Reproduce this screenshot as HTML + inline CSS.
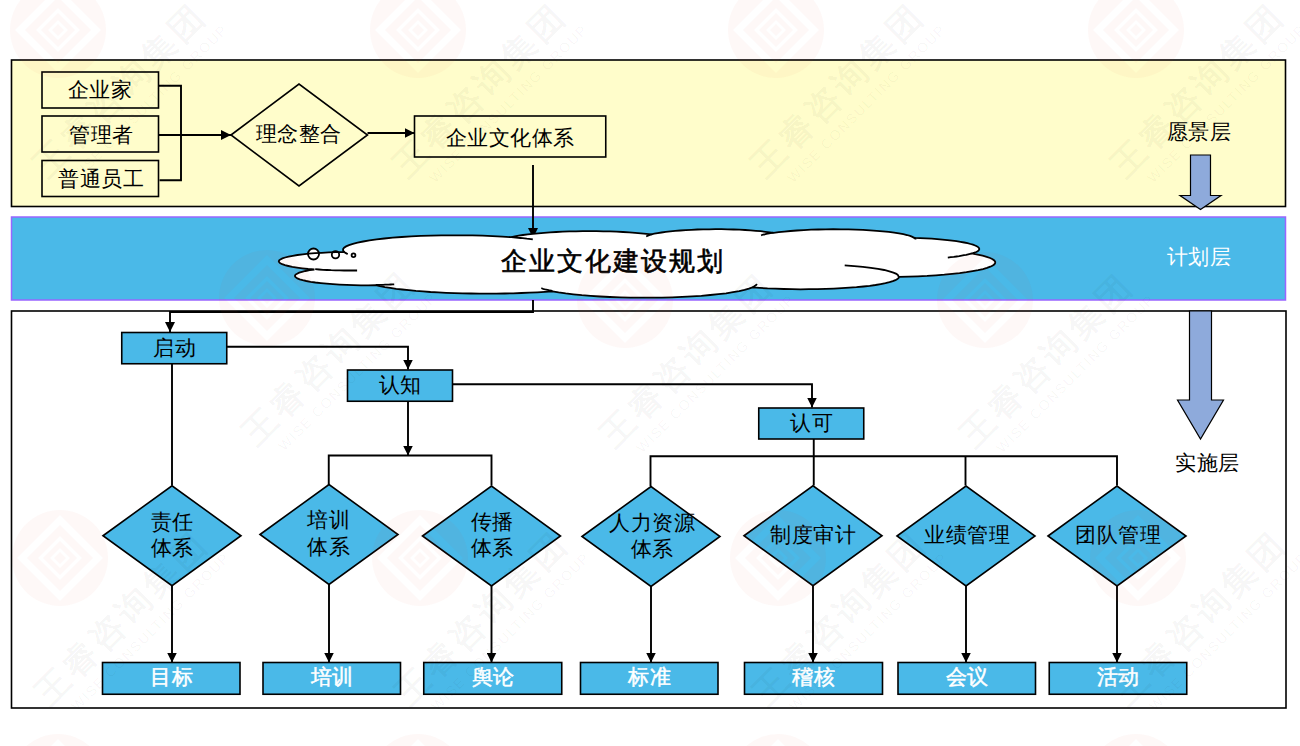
<!DOCTYPE html><html><head><meta charset="utf-8"><style>html,body{margin:0;padding:0;background:#fff;width:1300px;height:746px;overflow:hidden}svg{display:block}text{font-family:"Liberation Sans",sans-serif}</style></head><body><svg width="1300" height="746" viewBox="0 0 1300 746"><defs><marker id="ah" viewBox="0 0 10 10" refX="10" refY="5" markerWidth="10" markerHeight="10" markerUnits="userSpaceOnUse" orient="auto"><path d="M0,0L10,5L0,10Z" fill="#000"/></marker></defs><rect x="11.5" y="60" width="1274" height="146.5" fill="#FFFDCB" stroke="#000" stroke-width="1.6"/><rect x="11.5" y="217" width="1274" height="83" fill="#4AB9E8" stroke="#9966FF" stroke-width="1.5"/><rect x="11.5" y="311" width="1274.5" height="397" fill="none" stroke="#000" stroke-width="1.6"/><rect x="42" y="72" width="116.5" height="36" fill="none" stroke="#000" stroke-width="1.6"/><rect x="42" y="116" width="116.5" height="36" fill="none" stroke="#000" stroke-width="1.6"/><rect x="42" y="160.5" width="116.5" height="36" fill="none" stroke="#000" stroke-width="1.6"/><path d="M158.5,85.75 L181,85.75 L181,180.25 L159.5,180.25" fill="none" stroke="#000" stroke-width="1.9"/><path d="M158.5,135 L231,135" fill="none" stroke="#000" stroke-width="1.9" marker-end="url(#ah)"/><path d="M231,135L299,84L367.5,135L299,186Z" fill="none" stroke="#000" stroke-width="1.6"/><path d="M367.5,133 L414.5,133" fill="none" stroke="#000" stroke-width="1.9" marker-end="url(#ah)"/><rect x="414.5" y="116" width="191.25" height="41" fill="none" stroke="#000" stroke-width="1.6"/><path d="M533,165 L533,238" fill="none" stroke="#000" stroke-width="1.9" marker-end="url(#ah)"/><g fill="#fff" stroke="none"><circle cx="313.5" cy="254" r="5.5"/><circle cx="335.5" cy="254.75" r="3.7"/><circle cx="353.5" cy="255.25" r="1.9"/><path d="M344.0,251.8L343.1,250.4 343.1,249.1 344.1,247.7 346.1,246.4 349.0,245.1 352.9,243.8 357.6,242.6 363.2,241.5 369.5,240.4 376.6,239.4 384.4,238.5 392.8,237.7 401.7,237.0 411.1,236.4 420.9,235.9 430.9,235.6 441.2,235.4 451.6,235.3 462.0,235.3 472.4,235.4 482.6,235.7 492.5,236.1 502.2,236.6 511.4,237.2 514.8,236.5 518.7,235.7 523.0,235.0 527.8,234.4 532.8,233.8 538.3,233.3 544.0,232.8 550.0,232.3 556.2,232.0 562.7,231.7 569.3,231.4 576.0,231.3 582.8,231.2 589.6,231.1 596.5,231.2 603.3,231.3 610.0,231.4 616.6,231.7 623.0,232.0 629.2,232.4 635.2,232.8 640.9,233.3 646.3,233.8 651.4,234.4 654.3,233.7 657.7,233.1 661.5,232.5 665.7,231.9 670.3,231.4 675.2,230.9 680.4,230.5 685.8,230.1 691.4,229.8 697.3,229.5 703.2,229.4 709.3,229.3 715.4,229.2 721.5,229.2 727.5,229.3 733.5,229.5 739.4,229.7 745.1,230.0 750.6,230.4 755.8,230.8 760.7,231.2 765.4,231.8 769.7,232.3 773.6,232.9 778.7,232.2 784.4,231.6 790.5,231.0 797.0,230.5 803.9,230.1 811.0,229.7 818.3,229.5 825.8,229.3 833.3,229.2 840.9,229.3 848.4,229.4 855.8,229.6 863.0,229.9 870.0,230.3 876.7,230.8 882.9,231.3 888.8,231.9 894.2,232.6 899.0,233.4 903.3,234.2 907.0,235.0 910.1,235.9 912.4,236.9 914.1,237.8 920.1,238.1 926.0,238.4 931.7,238.7 937.2,239.1 942.4,239.6 947.4,240.1 952.1,240.6 956.5,241.2 960.5,241.9 964.2,242.5 967.5,243.2 970.5,244.0 973.0,244.7 975.1,245.5 976.8,246.3 978.1,247.1 978.9,247.9 979.2,248.7 979.2,249.5 978.6,250.4 977.7,251.2 976.2,252.0 974.4,252.7 972.1,253.5 977.7,254.6 982.6,255.7 986.7,256.8 990.1,258.0 992.6,259.2 994.3,260.5 995.2,261.7 995.2,263.0 994.4,264.3 992.8,265.5 990.3,266.7 987.0,267.9 983.0,269.1 978.2,270.2 972.6,271.2 966.4,272.2 959.6,273.1 952.2,273.9 944.3,274.7 935.9,275.3 927.1,275.9 918.0,276.3 908.6,276.7 899.0,276.9 898.6,278.0 897.4,279.1 895.4,280.2 892.8,281.2 889.5,282.2 885.5,283.2 880.8,284.1 875.5,285.0 869.7,285.8 863.4,286.5 856.5,287.2 849.3,287.7 841.7,288.2 833.8,288.6 825.7,288.9 817.4,289.1 809.0,289.2 800.5,289.3 792.1,289.2 783.7,289.0 775.5,288.7 767.5,288.4 759.8,287.9 752.4,287.4 748.9,288.7 744.5,289.9 739.2,291.1 733.0,292.2 726.1,293.3 718.5,294.2 710.2,295.0 701.3,295.8 692.0,296.4 682.2,296.9 672.2,297.3 661.8,297.6 651.4,297.7 640.8,297.7 630.4,297.6 620.0,297.4 609.9,297.0 600.1,296.5 590.7,295.9 581.8,295.2 573.4,294.3 565.7,293.4 558.6,292.4 552.4,291.3 545.0,291.8 537.3,292.3 529.4,292.7 521.4,293.0 513.1,293.3 504.8,293.5 496.3,293.6 487.9,293.6 479.4,293.6 471.0,293.5 462.6,293.4 454.3,293.1 446.2,292.8 438.2,292.4 430.5,292.0 423.0,291.4 415.8,290.9 408.9,290.2 402.3,289.5 396.1,288.8 390.3,287.9 384.9,287.1 380.0,286.2 375.6,285.2 368.2,285.3 360.9,285.3 353.6,285.1 346.5,284.9 339.6,284.6 332.9,284.2 326.7,283.7 320.8,283.1 315.4,282.5 310.6,281.8 306.3,281.0 302.7,280.2 299.7,279.3 297.4,278.4 295.9,277.4 295.1,276.5 295.0,275.5 295.6,274.6 297.1,273.7 299.2,272.7 302.0,271.9 305.5,271.0 309.7,270.2 314.4,269.5 308.1,269.0 302.3,268.3 297.0,267.6 292.3,266.9 288.3,266.0 284.9,265.2 282.2,264.2 280.3,263.3 279.2,262.3 278.8,261.3 279.2,260.4 280.4,259.4 282.4,258.4 285.1,257.5 288.6,256.6 292.7,255.8 297.4,255.0 302.8,254.4 308.6,253.7 315.0,253.2 321.7,252.8 328.7,252.4 336.0,252.2 343.4,252.0Z"/></g><g fill="none" stroke="#000" stroke-width="1.8"><circle cx="313.5" cy="254" r="5.5"/><circle cx="335.5" cy="254.75" r="3.7"/><circle cx="353.5" cy="255.25" r="1.9"/><path d="M344.0,251.8L343.1,250.4 343.1,249.1 344.1,247.7 346.1,246.4 349.0,245.1 352.9,243.8 357.6,242.6 363.2,241.5 369.5,240.4 376.6,239.4 384.4,238.5 392.8,237.7 401.7,237.0 411.1,236.4 420.9,235.9 430.9,235.6 441.2,235.4 451.6,235.3 462.0,235.3 472.4,235.4 482.6,235.7 492.5,236.1 502.2,236.6 511.4,237.2 514.8,236.5 518.7,235.7 523.0,235.0 527.8,234.4 532.8,233.8 538.3,233.3 544.0,232.8 550.0,232.3 556.2,232.0 562.7,231.7 569.3,231.4 576.0,231.3 582.8,231.2 589.6,231.1 596.5,231.2 603.3,231.3 610.0,231.4 616.6,231.7 623.0,232.0 629.2,232.4 635.2,232.8 640.9,233.3 646.3,233.8 651.4,234.4 654.3,233.7 657.7,233.1 661.5,232.5 665.7,231.9 670.3,231.4 675.2,230.9 680.4,230.5 685.8,230.1 691.4,229.8 697.3,229.5 703.2,229.4 709.3,229.3 715.4,229.2 721.5,229.2 727.5,229.3 733.5,229.5 739.4,229.7 745.1,230.0 750.6,230.4 755.8,230.8 760.7,231.2 765.4,231.8 769.7,232.3 773.6,232.9 778.7,232.2 784.4,231.6 790.5,231.0 797.0,230.5 803.9,230.1 811.0,229.7 818.3,229.5 825.8,229.3 833.3,229.2 840.9,229.3 848.4,229.4 855.8,229.6 863.0,229.9 870.0,230.3 876.7,230.8 882.9,231.3 888.8,231.9 894.2,232.6 899.0,233.4 903.3,234.2 907.0,235.0 910.1,235.9 912.4,236.9 914.1,237.8 920.1,238.1 926.0,238.4 931.7,238.7 937.2,239.1 942.4,239.6 947.4,240.1 952.1,240.6 956.5,241.2 960.5,241.9 964.2,242.5 967.5,243.2 970.5,244.0 973.0,244.7 975.1,245.5 976.8,246.3 978.1,247.1 978.9,247.9 979.2,248.7 979.2,249.5 978.6,250.4 977.7,251.2 976.2,252.0 974.4,252.7 972.1,253.5 977.7,254.6 982.6,255.7 986.7,256.8 990.1,258.0 992.6,259.2 994.3,260.5 995.2,261.7 995.2,263.0 994.4,264.3 992.8,265.5 990.3,266.7 987.0,267.9 983.0,269.1 978.2,270.2 972.6,271.2 966.4,272.2 959.6,273.1 952.2,273.9 944.3,274.7 935.9,275.3 927.1,275.9 918.0,276.3 908.6,276.7 899.0,276.9 898.6,278.0 897.4,279.1 895.4,280.2 892.8,281.2 889.5,282.2 885.5,283.2 880.8,284.1 875.5,285.0 869.7,285.8 863.4,286.5 856.5,287.2 849.3,287.7 841.7,288.2 833.8,288.6 825.7,288.9 817.4,289.1 809.0,289.2 800.5,289.3 792.1,289.2 783.7,289.0 775.5,288.7 767.5,288.4 759.8,287.9 752.4,287.4 748.9,288.7 744.5,289.9 739.2,291.1 733.0,292.2 726.1,293.3 718.5,294.2 710.2,295.0 701.3,295.8 692.0,296.4 682.2,296.9 672.2,297.3 661.8,297.6 651.4,297.7 640.8,297.7 630.4,297.6 620.0,297.4 609.9,297.0 600.1,296.5 590.7,295.9 581.8,295.2 573.4,294.3 565.7,293.4 558.6,292.4 552.4,291.3 545.0,291.8 537.3,292.3 529.4,292.7 521.4,293.0 513.1,293.3 504.8,293.5 496.3,293.6 487.9,293.6 479.4,293.6 471.0,293.5 462.6,293.4 454.3,293.1 446.2,292.8 438.2,292.4 430.5,292.0 423.0,291.4 415.8,290.9 408.9,290.2 402.3,289.5 396.1,288.8 390.3,287.9 384.9,287.1 380.0,286.2 375.6,285.2 368.2,285.3 360.9,285.3 353.6,285.1 346.5,284.9 339.6,284.6 332.9,284.2 326.7,283.7 320.8,283.1 315.4,282.5 310.6,281.8 306.3,281.0 302.7,280.2 299.7,279.3 297.4,278.4 295.9,277.4 295.1,276.5 295.0,275.5 295.6,274.6 297.1,273.7 299.2,272.7 302.0,271.9 305.5,271.0 309.7,270.2 314.4,269.5 308.1,269.0 302.3,268.3 297.0,267.6 292.3,266.9 288.3,266.0 284.9,265.2 282.2,264.2 280.3,263.3 279.2,262.3 278.8,261.3 279.2,260.4 280.4,259.4 282.4,258.4 285.1,257.5 288.6,256.6 292.7,255.8 297.4,255.0 302.8,254.4 308.6,253.7 315.0,253.2 321.7,252.8 328.7,252.4 336.0,252.2 343.4,252.0Z"/><path d="M357.1,270.5L352.8,270.5 348.4,270.5 344.0,270.5 339.7,270.4 335.4,270.3 331.2,270.2 327.0,270.0 323.0,269.8 319.0,269.5 315.2,269.2M394.2,284.3L392.4,284.4 390.6,284.5 388.8,284.6 387.0,284.7 385.1,284.7 383.3,284.8 381.4,284.8 379.6,284.9 377.7,284.9 375.8,284.9M552.4,291.0L551.0,290.7 549.8,290.5 548.6,290.2 547.4,289.9 546.3,289.6 545.2,289.4 544.1,289.1 543.1,288.8 542.2,288.5 541.3,288.2M756.9,284.1L756.7,284.4 756.4,284.7 756.1,285.0 755.7,285.3 755.3,285.6 754.9,285.9 754.3,286.2 753.8,286.5 753.2,286.8 752.5,287.1M844.7,265.4L854.2,266.1 862.9,266.9 870.9,267.8 878.0,268.9 884.2,270.0 889.4,271.3 893.4,272.6 896.4,273.9 898.1,275.3 898.6,276.7M971.8,253.3L970.1,253.8 968.2,254.3 966.2,254.8 964.0,255.2 961.7,255.6 959.2,256.1 956.5,256.5 953.8,256.9 950.8,257.2 947.8,257.6M914.2,237.6L914.5,237.8 914.7,238.0 914.9,238.2 915.1,238.4 915.2,238.6 915.3,238.8 915.4,239.0 915.5,239.2 915.5,239.4 915.5,239.6M761.1,235.3L762.0,235.0 763.1,234.7 764.2,234.5 765.3,234.2 766.5,233.9 767.8,233.7 769.1,233.4 770.5,233.2 771.9,232.9 773.4,232.7M646.2,236.5L646.6,236.3 647.0,236.0 647.5,235.8 648.0,235.6 648.6,235.4 649.2,235.1 649.9,234.9 650.6,234.7 651.3,234.5 652.1,234.3M511.3,237.2L513.6,237.4 515.9,237.6 518.2,237.8 520.4,238.0 522.6,238.2 524.7,238.4 526.8,238.7 528.9,238.9 530.9,239.1 532.8,239.4M347.8,254.0L347.3,253.8 346.8,253.6 346.3,253.4 345.9,253.1 345.5,252.9 345.2,252.7 344.8,252.5 344.5,252.2 344.3,252.0 344.0,251.8"/></g><path d="M1190.5,155L1210.5,155L1210.5,195.5L1221,195.5L1200.5,209.5L1180,195.5L1190.5,195.5Z" fill="#8EAADB" stroke="#000" stroke-width="1.2"/><path d="M1189.5,311L1211.5,311L1211.5,400L1223.5,400L1200.5,439L1177.5,400L1189.5,400Z" fill="#8EAADB" stroke="#000" stroke-width="1.2"/><path d="M533,300 L533,312 L170,312 L170,332" fill="none" stroke="#000" stroke-width="1.9" marker-end="url(#ah)"/><path d="M226.75,346.75 L408,346.75 L408,369.5" fill="none" stroke="#000" stroke-width="1.9" marker-end="url(#ah)"/><path d="M452.5,384.25 L812,384.25 L812,407.5" fill="none" stroke="#000" stroke-width="1.9" marker-end="url(#ah)"/><path d="M172,363.75 L172,485.5" fill="none" stroke="#000" stroke-width="1.9"/><path d="M408,401.25 L408,455.5" fill="none" stroke="#000" stroke-width="1.9" marker-end="url(#ah)"/><path d="M328.75,485 L328.75,455.5 L491.5,455.5 L491.5,485.5" fill="none" stroke="#000" stroke-width="1.9"/><path d="M813.75,439 L813.75,485.5" fill="none" stroke="#000" stroke-width="1.9"/><path d="M650.5,486 L650.5,456.25 L1117,456.25 L1117,485.5" fill="none" stroke="#000" stroke-width="1.9"/><path d="M965.5,456.25 L965.5,485.5" fill="none" stroke="#000" stroke-width="1.9"/><rect x="121.75" y="332.5" width="105.0" height="31.25" fill="#4AB9E8" stroke="#000" stroke-width="1.6"/><rect x="347.5" y="370" width="105.0" height="31.25" fill="#4AB9E8" stroke="#000" stroke-width="1.6"/><rect x="758.75" y="408" width="105.0" height="31" fill="#4AB9E8" stroke="#000" stroke-width="1.6"/><path d="M103,535.75L172,485.75L241,535.75L172,585.75Z" fill="#4AB9E8" stroke="#000" stroke-width="1.6"/><path d="M172,585.75 L172,662.5" fill="none" stroke="#000" stroke-width="1.9" marker-end="url(#ah)"/><path d="M260,534.5L329,484.5L398,534.5L329,584.5Z" fill="#4AB9E8" stroke="#000" stroke-width="1.6"/><path d="M329,584.5 L329,662.5" fill="none" stroke="#000" stroke-width="1.9" marker-end="url(#ah)"/><path d="M422.5,536L491.5,486L560.5,536L491.5,586Z" fill="#4AB9E8" stroke="#000" stroke-width="1.6"/><path d="M491.5,586 L491.5,662.5" fill="none" stroke="#000" stroke-width="1.9" marker-end="url(#ah)"/><path d="M582,536.5L651,486.5L720,536.5L651,586.5Z" fill="#4AB9E8" stroke="#000" stroke-width="1.6"/><path d="M651,586.5 L651,662.5" fill="none" stroke="#000" stroke-width="1.9" marker-end="url(#ah)"/><path d="M744,535.75L813,485.75L882,535.75L813,585.75Z" fill="#4AB9E8" stroke="#000" stroke-width="1.6"/><path d="M813,585.75 L813,662.5" fill="none" stroke="#000" stroke-width="1.9" marker-end="url(#ah)"/><path d="M897,536L966,486L1035,536L966,586Z" fill="#4AB9E8" stroke="#000" stroke-width="1.6"/><path d="M966,586 L966,662.5" fill="none" stroke="#000" stroke-width="1.9" marker-end="url(#ah)"/><path d="M1048,536L1117,486L1186,536L1117,586Z" fill="#4AB9E8" stroke="#000" stroke-width="1.6"/><path d="M1117,586 L1117,662.5" fill="none" stroke="#000" stroke-width="1.9" marker-end="url(#ah)"/><rect x="102.5" y="662.5" width="137.5" height="31.75" fill="#4AB9E8" stroke="#000" stroke-width="1.6"/><rect x="263" y="662.5" width="137.5" height="31.75" fill="#4AB9E8" stroke="#000" stroke-width="1.6"/><rect x="423.75" y="662.5" width="138.0" height="31.75" fill="#4AB9E8" stroke="#000" stroke-width="1.6"/><rect x="580.5" y="662.5" width="137.5" height="31.75" fill="#4AB9E8" stroke="#000" stroke-width="1.6"/><rect x="744.5" y="662.5" width="138.0" height="31.75" fill="#4AB9E8" stroke="#000" stroke-width="1.6"/><rect x="898" y="662.5" width="137.5" height="31.75" fill="#4AB9E8" stroke="#000" stroke-width="1.6"/><rect x="1049.25" y="662.5" width="137.5" height="31.75" fill="#4AB9E8" stroke="#000" stroke-width="1.6"/><text x="99.85" y="97" font-size="21.3" font-weight="normal" fill="#000" letter-spacing="0.5" text-anchor="middle">企业家</text><text x="101.5" y="141.5" font-size="21.3" font-weight="normal" fill="#000" letter-spacing="0.5" text-anchor="middle">管理者</text><text x="101.15" y="185.75" font-size="21.3" font-weight="normal" fill="#000" letter-spacing="0.5" text-anchor="middle">普通员工</text><text x="298.75" y="140.75" font-size="21.3" font-weight="normal" fill="#000" letter-spacing="0.5" text-anchor="middle">理念整合</text><text x="510.25" y="144.5" font-size="21.3" font-weight="normal" fill="#000" letter-spacing="0.5" text-anchor="middle">企业文化体系</text><text x="612.5" y="269.5" font-size="26" font-weight="normal" fill="#000" stroke="#000" stroke-width="0.6" letter-spacing="2" text-anchor="middle">企业文化建设规划</text><text x="1199.0" y="139" font-size="21.3" font-weight="normal" fill="#000" letter-spacing="0.5" text-anchor="middle">愿景层</text><text x="1199.0" y="264" font-size="21.3" font-weight="normal" fill="#fff" letter-spacing="0.5" text-anchor="middle">计划层</text><text x="1207.25" y="469.5" font-size="21.3" font-weight="normal" fill="#000" letter-spacing="0.5" text-anchor="middle">实施层</text><text x="174.65" y="354.5" font-size="21.3" font-weight="normal" fill="#000" letter-spacing="0.5" text-anchor="middle">启动</text><text x="400.25" y="391.5" font-size="21.3" font-weight="normal" fill="#000" letter-spacing="0.5" text-anchor="middle">认知</text><text x="811.5" y="429.5" font-size="21.3" font-weight="normal" fill="#000" letter-spacing="0.5" text-anchor="middle">认可</text><text x="172.25" y="529" font-size="21.3" font-weight="normal" fill="#000" letter-spacing="0.5" text-anchor="middle">责任</text><text x="172.25" y="555.25" font-size="21.3" font-weight="normal" fill="#000" letter-spacing="0.5" text-anchor="middle">体系</text><text x="328.65" y="527.25" font-size="21.3" font-weight="normal" fill="#000" letter-spacing="0.5" text-anchor="middle">培训</text><text x="328.65" y="554" font-size="21.3" font-weight="normal" fill="#000" letter-spacing="0.5" text-anchor="middle">体系</text><text x="492.15" y="529" font-size="21.3" font-weight="normal" fill="#000" letter-spacing="0.5" text-anchor="middle">传播</text><text x="492.15" y="555.25" font-size="21.3" font-weight="normal" fill="#000" letter-spacing="0.5" text-anchor="middle">体系</text><text x="652.25" y="529.75" font-size="21.3" font-weight="normal" fill="#000" letter-spacing="0.5" text-anchor="middle">人力资源</text><text x="652.25" y="555.75" font-size="21.3" font-weight="normal" fill="#000" letter-spacing="0.5" text-anchor="middle">体系</text><text x="813.25" y="542" font-size="21.3" font-weight="normal" fill="#000" letter-spacing="0.5" text-anchor="middle">制度审计</text><text x="967.15" y="542" font-size="21.3" font-weight="normal" fill="#000" letter-spacing="0.5" text-anchor="middle">业绩管理</text><text x="1118.0" y="542" font-size="21.3" font-weight="normal" fill="#000" letter-spacing="0.5" text-anchor="middle">团队管理</text><text x="171.5" y="684" font-size="21.3" font-weight="normal" fill="#fff" stroke="#fff" stroke-width="0.5" letter-spacing="0.5" text-anchor="middle">目标</text><text x="332.0" y="684" font-size="21.3" font-weight="normal" fill="#fff" stroke="#fff" stroke-width="0.5" letter-spacing="0.5" text-anchor="middle">培训</text><text x="493.0" y="684" font-size="21.3" font-weight="normal" fill="#fff" stroke="#fff" stroke-width="0.5" letter-spacing="0.5" text-anchor="middle">舆论</text><text x="649.5" y="684" font-size="21.3" font-weight="normal" fill="#fff" stroke="#fff" stroke-width="0.5" letter-spacing="0.5" text-anchor="middle">标准</text><text x="813.75" y="684" font-size="21.3" font-weight="normal" fill="#fff" stroke="#fff" stroke-width="0.5" letter-spacing="0.5" text-anchor="middle">稽核</text><text x="967.0" y="684" font-size="21.3" font-weight="normal" fill="#fff" stroke="#fff" stroke-width="0.5" letter-spacing="0.5" text-anchor="middle">会议</text><text x="1118.25" y="684" font-size="21.3" font-weight="normal" fill="#fff" stroke="#fff" stroke-width="0.5" letter-spacing="0.5" text-anchor="middle">活动</text><g><path d="M10,30 a48,48 0 1,0 96,0 a48,48 0 1,0 -96,0ZM58,-13L101,30L58,73L15,30ZM58,-3L91,30L58,63L25,30ZM58,8L80,30L58,52L36,30ZM58,13L75,30L58,47L41,30ZM58,20L68,30L58,40L48,30ZM58,24L64,30L58,36L52,30Z" fill="#e8503c" fill-opacity="0.04" fill-rule="evenodd"/><text x="128" y="98" transform="rotate(-45 128 98)" font-size="34" font-weight="bold" fill="#000" fill-opacity="0.04" text-anchor="middle" letter-spacing="4">王睿咨询集团</text><text x="152" y="107" transform="rotate(-45 152 107)" font-size="14" fill="#000" fill-opacity="0.04" text-anchor="middle" letter-spacing="1.5">WISE CONSULTING GROUP</text><path d="M370,30 a48,48 0 1,0 96,0 a48,48 0 1,0 -96,0ZM418,-13L461,30L418,73L375,30ZM418,-3L451,30L418,63L385,30ZM418,8L440,30L418,52L396,30ZM418,13L435,30L418,47L401,30ZM418,20L428,30L418,40L408,30ZM418,24L424,30L418,36L412,30Z" fill="#e8503c" fill-opacity="0.04" fill-rule="evenodd"/><text x="488" y="98" transform="rotate(-45 488 98)" font-size="34" font-weight="bold" fill="#000" fill-opacity="0.04" text-anchor="middle" letter-spacing="4">王睿咨询集团</text><text x="512" y="107" transform="rotate(-45 512 107)" font-size="14" fill="#000" fill-opacity="0.04" text-anchor="middle" letter-spacing="1.5">WISE CONSULTING GROUP</text><path d="M728,30 a48,48 0 1,0 96,0 a48,48 0 1,0 -96,0ZM776,-13L819,30L776,73L733,30ZM776,-3L809,30L776,63L743,30ZM776,8L798,30L776,52L754,30ZM776,13L793,30L776,47L759,30ZM776,20L786,30L776,40L766,30ZM776,24L782,30L776,36L770,30Z" fill="#e8503c" fill-opacity="0.04" fill-rule="evenodd"/><text x="846" y="98" transform="rotate(-45 846 98)" font-size="34" font-weight="bold" fill="#000" fill-opacity="0.04" text-anchor="middle" letter-spacing="4">王睿咨询集团</text><text x="870" y="107" transform="rotate(-45 870 107)" font-size="14" fill="#000" fill-opacity="0.04" text-anchor="middle" letter-spacing="1.5">WISE CONSULTING GROUP</text><path d="M1088,30 a48,48 0 1,0 96,0 a48,48 0 1,0 -96,0ZM1136,-13L1179,30L1136,73L1093,30ZM1136,-3L1169,30L1136,63L1103,30ZM1136,8L1158,30L1136,52L1114,30ZM1136,13L1153,30L1136,47L1119,30ZM1136,20L1146,30L1136,40L1126,30ZM1136,24L1142,30L1136,36L1130,30Z" fill="#e8503c" fill-opacity="0.04" fill-rule="evenodd"/><text x="1206" y="98" transform="rotate(-45 1206 98)" font-size="34" font-weight="bold" fill="#000" fill-opacity="0.04" text-anchor="middle" letter-spacing="4">王睿咨询集团</text><text x="1230" y="107" transform="rotate(-45 1230 107)" font-size="14" fill="#000" fill-opacity="0.04" text-anchor="middle" letter-spacing="1.5">WISE CONSULTING GROUP</text><path d="M219,298 a48,48 0 1,0 96,0 a48,48 0 1,0 -96,0ZM267,255L310,298L267,341L224,298ZM267,265L300,298L267,331L234,298ZM267,276L289,298L267,320L245,298ZM267,281L284,298L267,315L250,298ZM267,288L277,298L267,308L257,298ZM267,292L273,298L267,304L261,298Z" fill="#e8503c" fill-opacity="0.04" fill-rule="evenodd"/><text x="337" y="366" transform="rotate(-45 337 366)" font-size="34" font-weight="bold" fill="#000" fill-opacity="0.04" text-anchor="middle" letter-spacing="4">王睿咨询集团</text><text x="361" y="375" transform="rotate(-45 361 375)" font-size="14" fill="#000" fill-opacity="0.04" text-anchor="middle" letter-spacing="1.5">WISE CONSULTING GROUP</text><path d="M577,300 a48,48 0 1,0 96,0 a48,48 0 1,0 -96,0ZM625,257L668,300L625,343L582,300ZM625,267L658,300L625,333L592,300ZM625,278L647,300L625,322L603,300ZM625,283L642,300L625,317L608,300ZM625,290L635,300L625,310L615,300ZM625,294L631,300L625,306L619,300Z" fill="#e8503c" fill-opacity="0.04" fill-rule="evenodd"/><text x="695" y="368" transform="rotate(-45 695 368)" font-size="34" font-weight="bold" fill="#000" fill-opacity="0.04" text-anchor="middle" letter-spacing="4">王睿咨询集团</text><text x="719" y="377" transform="rotate(-45 719 377)" font-size="14" fill="#000" fill-opacity="0.04" text-anchor="middle" letter-spacing="1.5">WISE CONSULTING GROUP</text><path d="M937,300 a48,48 0 1,0 96,0 a48,48 0 1,0 -96,0ZM985,257L1028,300L985,343L942,300ZM985,267L1018,300L985,333L952,300ZM985,278L1007,300L985,322L963,300ZM985,283L1002,300L985,317L968,300ZM985,290L995,300L985,310L975,300ZM985,294L991,300L985,306L979,300Z" fill="#e8503c" fill-opacity="0.04" fill-rule="evenodd"/><text x="1055" y="368" transform="rotate(-45 1055 368)" font-size="34" font-weight="bold" fill="#000" fill-opacity="0.04" text-anchor="middle" letter-spacing="4">王睿咨询集团</text><text x="1079" y="377" transform="rotate(-45 1079 377)" font-size="14" fill="#000" fill-opacity="0.04" text-anchor="middle" letter-spacing="1.5">WISE CONSULTING GROUP</text><path d="M12,558 a48,48 0 1,0 96,0 a48,48 0 1,0 -96,0ZM60,515L103,558L60,601L17,558ZM60,525L93,558L60,591L27,558ZM60,536L82,558L60,580L38,558ZM60,541L77,558L60,575L43,558ZM60,548L70,558L60,568L50,558ZM60,552L66,558L60,564L54,558Z" fill="#e8503c" fill-opacity="0.04" fill-rule="evenodd"/><text x="130" y="626" transform="rotate(-45 130 626)" font-size="34" font-weight="bold" fill="#000" fill-opacity="0.04" text-anchor="middle" letter-spacing="4">王睿咨询集团</text><text x="154" y="635" transform="rotate(-45 154 635)" font-size="14" fill="#000" fill-opacity="0.04" text-anchor="middle" letter-spacing="1.5">WISE CONSULTING GROUP</text><path d="M372,558 a48,48 0 1,0 96,0 a48,48 0 1,0 -96,0ZM420,515L463,558L420,601L377,558ZM420,525L453,558L420,591L387,558ZM420,536L442,558L420,580L398,558ZM420,541L437,558L420,575L403,558ZM420,548L430,558L420,568L410,558ZM420,552L426,558L420,564L414,558Z" fill="#e8503c" fill-opacity="0.04" fill-rule="evenodd"/><text x="490" y="626" transform="rotate(-45 490 626)" font-size="34" font-weight="bold" fill="#000" fill-opacity="0.04" text-anchor="middle" letter-spacing="4">王睿咨询集团</text><text x="514" y="635" transform="rotate(-45 514 635)" font-size="14" fill="#000" fill-opacity="0.04" text-anchor="middle" letter-spacing="1.5">WISE CONSULTING GROUP</text><path d="M730,558 a48,48 0 1,0 96,0 a48,48 0 1,0 -96,0ZM778,515L821,558L778,601L735,558ZM778,525L811,558L778,591L745,558ZM778,536L800,558L778,580L756,558ZM778,541L795,558L778,575L761,558ZM778,548L788,558L778,568L768,558ZM778,552L784,558L778,564L772,558Z" fill="#e8503c" fill-opacity="0.04" fill-rule="evenodd"/><text x="848" y="626" transform="rotate(-45 848 626)" font-size="34" font-weight="bold" fill="#000" fill-opacity="0.04" text-anchor="middle" letter-spacing="4">王睿咨询集团</text><text x="872" y="635" transform="rotate(-45 872 635)" font-size="14" fill="#000" fill-opacity="0.04" text-anchor="middle" letter-spacing="1.5">WISE CONSULTING GROUP</text><path d="M1090,558 a48,48 0 1,0 96,0 a48,48 0 1,0 -96,0ZM1138,515L1181,558L1138,601L1095,558ZM1138,525L1171,558L1138,591L1105,558ZM1138,536L1160,558L1138,580L1116,558ZM1138,541L1155,558L1138,575L1121,558ZM1138,548L1148,558L1138,568L1128,558ZM1138,552L1144,558L1138,564L1132,558Z" fill="#e8503c" fill-opacity="0.04" fill-rule="evenodd"/><text x="1208" y="626" transform="rotate(-45 1208 626)" font-size="34" font-weight="bold" fill="#000" fill-opacity="0.04" text-anchor="middle" letter-spacing="4">王睿咨询集团</text><text x="1232" y="635" transform="rotate(-45 1232 635)" font-size="14" fill="#000" fill-opacity="0.04" text-anchor="middle" letter-spacing="1.5">WISE CONSULTING GROUP</text><path d="M10,782 a48,48 0 1,0 96,0 a48,48 0 1,0 -96,0ZM58,739L101,782L58,825L15,782ZM58,749L91,782L58,815L25,782ZM58,760L80,782L58,804L36,782ZM58,765L75,782L58,799L41,782ZM58,772L68,782L58,792L48,782ZM58,776L64,782L58,788L52,782Z" fill="#e8503c" fill-opacity="0.04" fill-rule="evenodd"/><text x="128" y="850" transform="rotate(-45 128 850)" font-size="34" font-weight="bold" fill="#000" fill-opacity="0.04" text-anchor="middle" letter-spacing="4">王睿咨询集团</text><text x="152" y="859" transform="rotate(-45 152 859)" font-size="14" fill="#000" fill-opacity="0.04" text-anchor="middle" letter-spacing="1.5">WISE CONSULTING GROUP</text><path d="M370,782 a48,48 0 1,0 96,0 a48,48 0 1,0 -96,0ZM418,739L461,782L418,825L375,782ZM418,749L451,782L418,815L385,782ZM418,760L440,782L418,804L396,782ZM418,765L435,782L418,799L401,782ZM418,772L428,782L418,792L408,782ZM418,776L424,782L418,788L412,782Z" fill="#e8503c" fill-opacity="0.04" fill-rule="evenodd"/><text x="488" y="850" transform="rotate(-45 488 850)" font-size="34" font-weight="bold" fill="#000" fill-opacity="0.04" text-anchor="middle" letter-spacing="4">王睿咨询集团</text><text x="512" y="859" transform="rotate(-45 512 859)" font-size="14" fill="#000" fill-opacity="0.04" text-anchor="middle" letter-spacing="1.5">WISE CONSULTING GROUP</text><path d="M730,782 a48,48 0 1,0 96,0 a48,48 0 1,0 -96,0ZM778,739L821,782L778,825L735,782ZM778,749L811,782L778,815L745,782ZM778,760L800,782L778,804L756,782ZM778,765L795,782L778,799L761,782ZM778,772L788,782L778,792L768,782ZM778,776L784,782L778,788L772,782Z" fill="#e8503c" fill-opacity="0.04" fill-rule="evenodd"/><text x="848" y="850" transform="rotate(-45 848 850)" font-size="34" font-weight="bold" fill="#000" fill-opacity="0.04" text-anchor="middle" letter-spacing="4">王睿咨询集团</text><text x="872" y="859" transform="rotate(-45 872 859)" font-size="14" fill="#000" fill-opacity="0.04" text-anchor="middle" letter-spacing="1.5">WISE CONSULTING GROUP</text><path d="M1088,782 a48,48 0 1,0 96,0 a48,48 0 1,0 -96,0ZM1136,739L1179,782L1136,825L1093,782ZM1136,749L1169,782L1136,815L1103,782ZM1136,760L1158,782L1136,804L1114,782ZM1136,765L1153,782L1136,799L1119,782ZM1136,772L1146,782L1136,792L1126,782ZM1136,776L1142,782L1136,788L1130,782Z" fill="#e8503c" fill-opacity="0.04" fill-rule="evenodd"/><text x="1206" y="850" transform="rotate(-45 1206 850)" font-size="34" font-weight="bold" fill="#000" fill-opacity="0.04" text-anchor="middle" letter-spacing="4">王睿咨询集团</text><text x="1230" y="859" transform="rotate(-45 1230 859)" font-size="14" fill="#000" fill-opacity="0.04" text-anchor="middle" letter-spacing="1.5">WISE CONSULTING GROUP</text></g></svg></body></html>
